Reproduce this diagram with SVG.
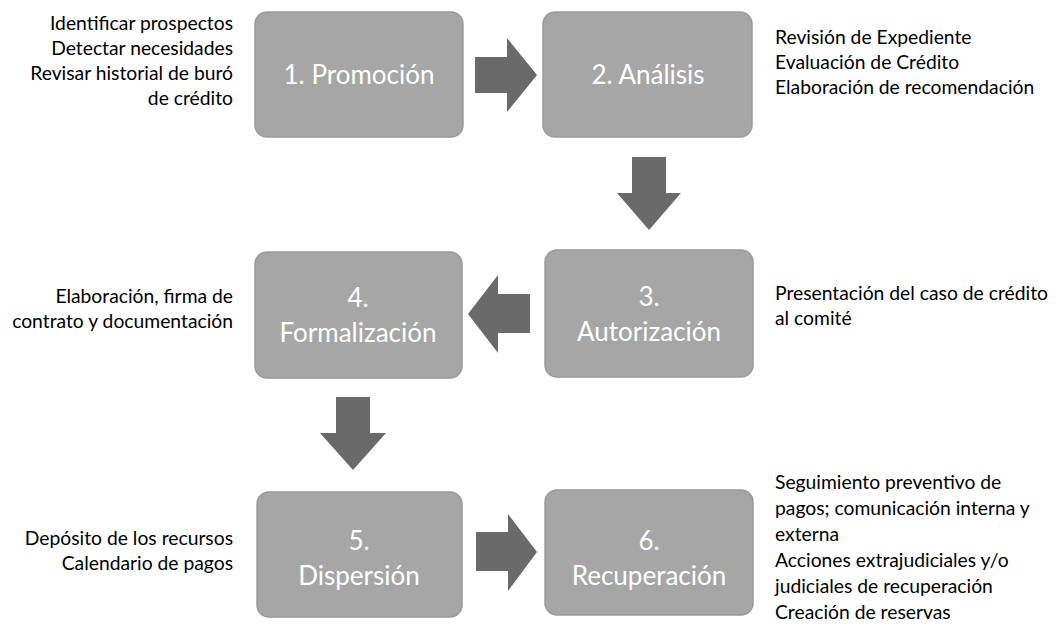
<svg xmlns="http://www.w3.org/2000/svg" width="1057" height="636" viewBox="0 0 1057 636">
<style>
.box{fill:#a6a6a6;stroke:#9a9a9a;stroke-width:1.5}
.bt{font-family:Lato,"Liberation Sans",sans-serif;font-size:26px;fill:#ffffff;text-anchor:middle}
.st{font-family:Lato,"Liberation Sans",sans-serif;font-size:19.3px;fill:#000000}
.r{text-anchor:end}
.arr{fill:#6a6a6a}
</style>
<rect width="1057" height="636" fill="#ffffff"/>
<g id="connectors">
<polygon class="arr" points="475,57 507,57 507,38 537,75 507,112 507,93 475,93"/>
<polygon class="arr" points="632,157 666,157 666,193 681,193 649,230 617,193 632,193"/>
<polygon class="arr" points="530,294 498,294 498,275 468,314 498,353 498,333 530,333"/>
<polygon class="arr" points="336,397 370,397 370,433 386,433 353,470 320,433 336,433"/>
<polygon class="arr" points="476,532 508,532 508,514 537,552 508,591 508,571 476,571"/>
</g>
<g id="n1">
<rect class="box" x="255" y="12" width="208" height="125" rx="12"/>
<text class="bt" x="359" y="84">1. Promoción</text>
</g>
<g id="n2">
<rect class="box" x="543" y="12" width="209" height="125" rx="12"/>
<text class="bt" x="648" y="84">2. Análisis</text>
</g>
<g id="n3">
<rect class="box" x="545" y="250" width="208" height="127" rx="12"/>
<text class="bt" x="649" y="306">3.</text>
<text class="bt" x="649" y="341">Autorización</text>
</g>
<g id="n4">
<rect class="box" x="255" y="252" width="207" height="126" rx="12"/>
<text class="bt" x="358" y="307">4.</text>
<text class="bt" x="358" y="342">Formalización</text>
</g>
<g id="n5">
<rect class="box" x="257" y="492" width="205" height="125" rx="12"/>
<text class="bt" x="359" y="550">5.</text>
<text class="bt" x="359" y="585">Dispersión</text>
</g>
<g id="n6">
<rect class="box" x="545" y="490" width="208" height="125" rx="12"/>
<text class="bt" x="649" y="550">6.</text>
<text class="bt" x="649" y="585">Recuperación</text>
</g>
<g id="notes">
<text class="st r" x="233" y="30">Identificar prospectos</text>
<text class="st r" x="233" y="55">Detectar necesidades</text>
<text class="st r" x="233" y="80">Revisar historial de buró</text>
<text class="st r" x="233" y="105">de crédito</text>
<text class="st" x="775" y="44">Revisión de Expediente</text>
<text class="st" x="775" y="69">Evaluación de Crédito</text>
<text class="st" x="775" y="94">Elaboración de recomendación</text>
<text class="st" x="775" y="300">Presentación del caso de crédito</text>
<text class="st" x="775" y="325">al comité</text>
<text class="st r" x="233" y="303">Elaboración, firma de</text>
<text class="st r" x="233" y="328">contrato y documentación</text>
<text class="st r" x="233" y="545">Depósito de los recursos</text>
<text class="st r" x="233" y="570">Calendario de pagos</text>
<text class="st" x="775" y="489">Seguimiento preventivo de</text>
<text class="st" x="775" y="515">pagos; comunicación interna y</text>
<text class="st" x="775" y="541">externa</text>
<text class="st" x="775" y="567">Acciones extrajudiciales y/o</text>
<text class="st" x="775" y="593">judiciales de recuperación</text>
<text class="st" x="775" y="619">Creación de reservas</text>
</g>
</svg>
